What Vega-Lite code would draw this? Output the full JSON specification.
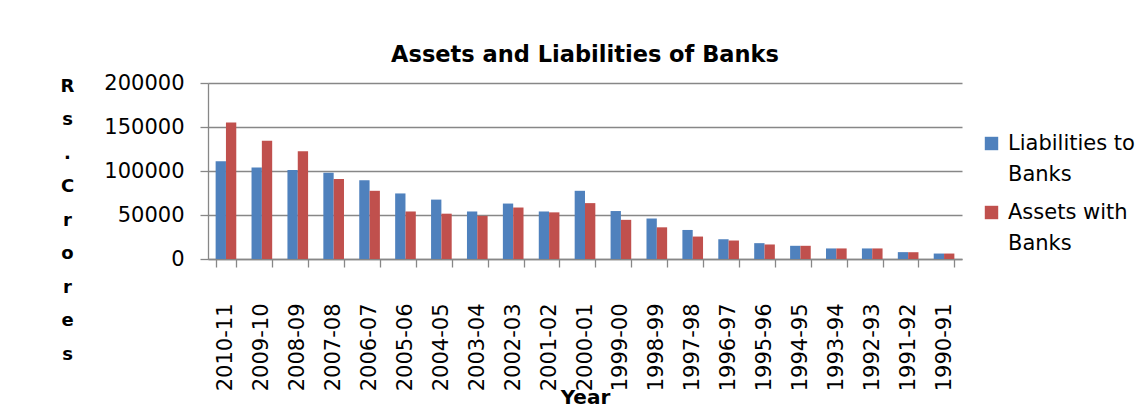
{
  "$schema": "https://vega.github.io/schema/vega-lite/v6.json",
  "width": 754,
  "height": 176,
  "autosize": {"type": "none"},
  "padding": {"left": 208, "top": 83, "right": 186, "bottom": 155},
  "background": "white",
  "title": {
    "text": "Assets and Liabilities of Banks",
    "font": "DejaVu Sans",
    "fontSize": 22.5,
    "fontWeight": "bold",
    "color": "#000000",
    "anchor": "middle",
    "baseline": "alphabetic",
    "offset": 21,
    "dy": 33
  },
  "data": {
    "values": [
      {"year": "2010-11", "series": "Liabilities to Banks", "value": 111000},
      {"year": "2010-11", "series": "Assets with Banks", "value": 155000},
      {"year": "2009-10", "series": "Liabilities to Banks", "value": 104000},
      {"year": "2009-10", "series": "Assets with Banks", "value": 134500},
      {"year": "2008-09", "series": "Liabilities to Banks", "value": 101000},
      {"year": "2008-09", "series": "Assets with Banks", "value": 122500},
      {"year": "2007-08", "series": "Liabilities to Banks", "value": 98000},
      {"year": "2007-08", "series": "Assets with Banks", "value": 91000},
      {"year": "2006-07", "series": "Liabilities to Banks", "value": 89500},
      {"year": "2006-07", "series": "Assets with Banks", "value": 77500},
      {"year": "2005-06", "series": "Liabilities to Banks", "value": 74500},
      {"year": "2005-06", "series": "Assets with Banks", "value": 54000},
      {"year": "2004-05", "series": "Liabilities to Banks", "value": 67500},
      {"year": "2004-05", "series": "Assets with Banks", "value": 51500},
      {"year": "2003-04", "series": "Liabilities to Banks", "value": 54000},
      {"year": "2003-04", "series": "Assets with Banks", "value": 49000},
      {"year": "2002-03", "series": "Liabilities to Banks", "value": 63000},
      {"year": "2002-03", "series": "Assets with Banks", "value": 58500},
      {"year": "2001-02", "series": "Liabilities to Banks", "value": 54000},
      {"year": "2001-02", "series": "Assets with Banks", "value": 53000},
      {"year": "2000-01", "series": "Liabilities to Banks", "value": 77500},
      {"year": "2000-01", "series": "Assets with Banks", "value": 63500},
      {"year": "1999-00", "series": "Liabilities to Banks", "value": 54500},
      {"year": "1999-00", "series": "Assets with Banks", "value": 44500},
      {"year": "1998-99", "series": "Liabilities to Banks", "value": 46000},
      {"year": "1998-99", "series": "Assets with Banks", "value": 36000},
      {"year": "1997-98", "series": "Liabilities to Banks", "value": 33000},
      {"year": "1997-98", "series": "Assets with Banks", "value": 25500},
      {"year": "1996-97", "series": "Liabilities to Banks", "value": 22500},
      {"year": "1996-97", "series": "Assets with Banks", "value": 21000},
      {"year": "1995-96", "series": "Liabilities to Banks", "value": 18000},
      {"year": "1995-96", "series": "Assets with Banks", "value": 16500},
      {"year": "1994-95", "series": "Liabilities to Banks", "value": 15000},
      {"year": "1994-95", "series": "Assets with Banks", "value": 15000},
      {"year": "1993-94", "series": "Liabilities to Banks", "value": 12000},
      {"year": "1993-94", "series": "Assets with Banks", "value": 12000},
      {"year": "1992-93", "series": "Liabilities to Banks", "value": 12000},
      {"year": "1992-93", "series": "Assets with Banks", "value": 12000},
      {"year": "1991-92", "series": "Liabilities to Banks", "value": 7800},
      {"year": "1991-92", "series": "Assets with Banks", "value": 7700},
      {"year": "1990-91", "series": "Liabilities to Banks", "value": 6200},
      {"year": "1990-91", "series": "Assets with Banks", "value": 6200}
    ]
  },
  "mark": {"type": "bar"},
  "encoding": {
    "x": {
      "field": "year",
      "type": "nominal",
      "sort": null,
      "scale": {"paddingInner": 0.425, "paddingOuter": 0.2125},
      "axis": {
        "title": "Year",
        "titleFont": "DejaVu Sans",
        "titleFontSize": 20,
        "titleFontWeight": "bold",
        "titleColor": "#000000",
        "titleBaseline": "alphabetic",
        "titleY": 144,
        "labelAngle": -90,
        "labelFont": "DejaVu Sans",
        "labelFontSize": 21,
        "labelColor": "#000000",
        "labelPadding": 36,
        "labelLimit": 300,
        "labelOverlap": false,
        "tickBand": "extent",
        "tickSize": 8,
        "tickColor": "#878787",
        "domainColor": "#878787",
        "domainWidth": 1.3,
        "tickWidth": 1.3
      }
    },
    "xOffset": {
      "field": "series",
      "type": "nominal",
      "sort": ["Liabilities to Banks", "Assets with Banks"],
      "scale": {"paddingInner": 0, "paddingOuter": 0}
    },
    "y": {
      "field": "value",
      "type": "quantitative",
      "scale": {"domain": [0, 200000], "nice": false},
      "axis": {
        "values": [0, 50000, 100000, 150000, 200000],
        "format": "d",
        "title": ["R", "s", ".", "C", "r", "o", "r", "e", "s"],
        "titleAngle": 0,
        "titleFont": "DejaVu Sans",
        "titleFontSize": 18,
        "titleFontWeight": "bold",
        "titleColor": "#000000",
        "titleAlign": "center",
        "titleBaseline": "alphabetic",
        "titleLineHeight": 33.5,
        "titleX": -141,
        "titleY": 8,
        "labelFont": "DejaVu Sans",
        "labelFontSize": 21,
        "labelColor": "#000000",
        "labelPadding": 16,
        "tickSize": 8,
        "tickColor": "#878787",
        "tickWidth": 1.3,
        "domainColor": "#878787",
        "domainWidth": 1.3,
        "grid": true,
        "gridColor": "#878787",
        "gridWidth": 1.3
      }
    },
    "color": {
      "field": "series",
      "type": "nominal",
      "sort": ["Liabilities to Banks", "Assets with Banks"],
      "scale": {
        "domain": ["Liabilities to Banks", "Assets with Banks"],
        "range": ["#4F81BD", "#C0504D"]
      },
      "legend": {
        "title": null,
        "orient": "none",
        "legendX": 773,
        "legendY": 50,
        "symbolType": "square",
        "symbolSize": 180,
        "symbolStrokeWidth": 0,
        "labelFont": "DejaVu Sans",
        "labelFontSize": 21,
        "labelColor": "#000000",
        "labelLimit": 300,
        "labelOffset": 6,
        "rowPadding": 16,
        "labelExpr": "datum.label == 'Liabilities to Banks' ? ['Liabilities to', 'Banks'] : ['Assets with', 'Banks']",
        "encode": {
          "labels": {"update": {"lineHeight": {"value": 31}}}
        }
      }
    }
  },
  "config": {
    "view": {"stroke": null},
    "font": "DejaVu Sans"
  }
}
